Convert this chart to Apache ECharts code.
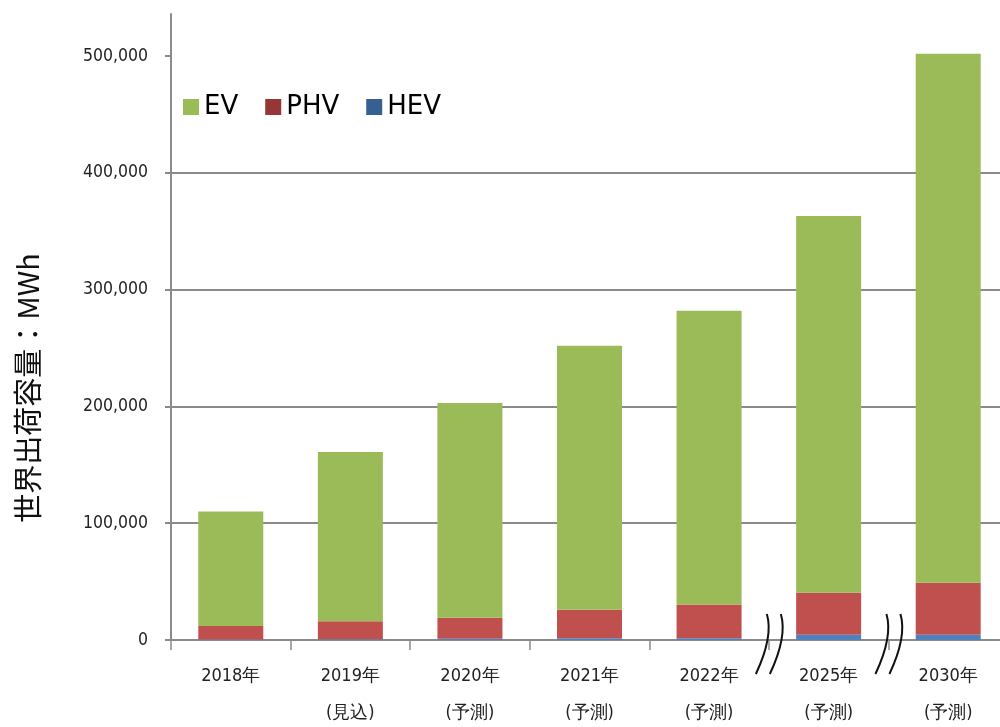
<!DOCTYPE html>
<html>
<head>
<meta charset="utf-8">
<script src="https://cdn.jsdelivr.net/npm/echarts@6/dist/echarts.min.js"></script>
<style>
  html, body { margin: 0; padding: 0; background: #fff; }
  #chart { width: 1000px; height: 727px; }
</style>
</head>
<body>
<div id="chart"></div>
<script>
// 年（2行目は見込/予測）
const years = ['2018年', '2019年', '2020年', '2021年', '2022年', '2025年', '2030年'];
const notes = ['', '(見込)', '(予測)', '(予測)', '(予測)', '(予測)', '(予測)'];

// 世界出荷容量 (MWh)
const hevValues = [400, 600, 1000, 1500, 1500, 4500, 4500];
const phvValues = [11600, 15400, 18000, 24500, 29000, 36000, 44500];
const evValues = [98000, 145000, 184000, 226000, 251500, 322500, 453000];

const yTicks = [0, 100000, 200000, 300000, 400000, 500000];
// 軸の省略記号を入れる位置（カテゴリの間）
const breakAfter = [4, 5];

const categories = years.map((y, i) => (notes[i] ? `${y}\n${notes[i]}` : y));

const colors = {
  ev: '#9bbb59',
  phv: '#c0504d',
  hev: '#4f81bd',
};

const chart = echarts.init(document.getElementById('chart'));

chart.setOption({
  animation: false,
  backgroundColor: '#fff',
  grid: {
    left: 171,
    width: 837,
    top: 14,
    bottom: 87,
    containLabel: false,
    outerBoundsMode: 'none',
  },
  legend: {
    left: 178,
    top: 89,
    icon: 'rect',
    itemWidth: 16,
    itemHeight: 16,
    itemGap: 27,
    textStyle: {
      fontFamily: 'DejaVu Sans',
      fontSize: 26,
      color: '#000',
    },
    data: [
      { name: 'EV', itemStyle: { color: '#9bbb59' } },
      { name: 'PHV', itemStyle: { color: '#953735' } },
      { name: 'HEV', itemStyle: { color: '#376092' } },
    ],
  },
  xAxis: {
    type: 'category',
    data: categories,
    axisLine: { lineStyle: { color: '#8a8a8a', width: 2 } },
    axisTick: { show: true, length: 10, lineStyle: { color: '#8a8a8a', width: 1.5 } },
    axisLabel: {
      margin: 18,
      color: '#222',
      fontFamily: 'DejaVu Sans Condensed',
      fontSize: 18,
      lineHeight: 37,
    },
  },
  yAxis: {
    type: 'value',
    min: 0,
    max: 536000,
    interval: 100000,
    axisLine: { show: true, lineStyle: { color: '#8a8a8a', width: 2 } },
    axisTick: {
      show: true,
      length: 6,
      customValues: yTicks,
      lineStyle: { color: '#8a8a8a', width: 2 },
    },
    axisLabel: {
      customValues: yTicks,
      margin: 23,
      color: '#222',
      fontFamily: 'DejaVu Sans Condensed',
      fontSize: 17.5,
      formatter: val => val.toLocaleString('en-US'),
    },
    splitLine: {
      show: true,
      showMaxLine: false,
      lineStyle: { color: '#8a8a8a', width: 2 },
    },
  },
  series: [
    {
      name: 'HEV',
      type: 'bar',
      stack: 'total',
      barWidth: 65,
      itemStyle: { color: colors.hev },
      data: hevValues,
    },
    {
      name: 'PHV',
      type: 'bar',
      stack: 'total',
      barWidth: 65,
      itemStyle: { color: colors.phv },
      data: phvValues,
    },
    {
      name: 'EV',
      type: 'bar',
      stack: 'total',
      barWidth: 65,
      itemStyle: { color: colors.ev },
      data: evValues,
    },
  ],
});

// 縦軸タイトルと省略記号
const breakMarks = [];
breakAfter.forEach(idx => {
  const x0 = chart.convertToPixel({ xAxisIndex: 0 }, idx);
  const x1 = chart.convertToPixel({ xAxisIndex: 0 }, idx + 1);
  const cx = (x0 + x1) / 2;
  [-7, 7].forEach(dx => {
    const x = cx + dx;
    breakMarks.push({
      type: 'bezierCurve',
      silent: true,
      z: 100,
      shape: {
        x1: x + 5,
        y1: 614,
        cpx1: x + 11,
        cpy1: 634,
        cpx2: x + 2,
        cpy2: 657,
        x2: x - 6,
        y2: 674,
      },
      style: { stroke: '#111', lineWidth: 2, fill: null },
    });
  });
});

chart.setOption({
  graphic: [
    {
      type: 'text',
      x: 28,
      y: 388,
      rotation: Math.PI / 2,
      style: {
        text: '世界出荷容量：MWh',
        font: '29px "Noto Sans CJK JP"',
        fill: '#111',
        align: 'center',
        verticalAlign: 'middle',
      },
    },
    ...breakMarks,
  ],
});
</script>
</body>
</html>
